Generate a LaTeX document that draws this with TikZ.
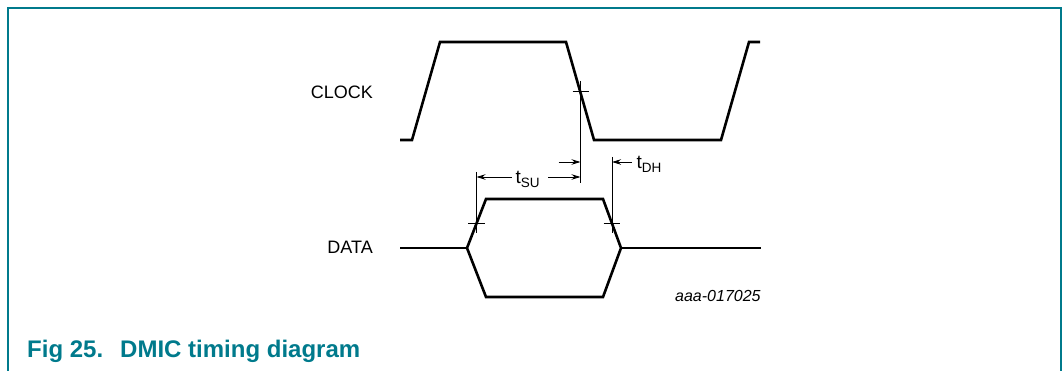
\documentclass[tikz,border=0pt]{standalone}
\usepackage{fontspec}
\setmainfont{Liberation Sans}
\usetikzlibrary{arrows.meta}
\definecolor{nxpteal}{RGB}{0,122,140}
\begin{document}
\begin{tikzpicture}[x=1pt,y=-1pt,
  wave/.style={line width=2.6pt, line join=miter},
  guide/.style={line width=0.9pt},
  dimarrow/.style={line width=0.9pt,-{Stealth[length=9pt,width=5.5pt]}},
  lbl/.style={inner sep=0pt, font=\fontsize{18}{18}\selectfont},
  tlbl/.style={inner sep=0pt, font=\fontsize{19}{19}\selectfont},
]
\useasboundingbox (0,0) rectangle (1063,371);
% frame
\draw[nxpteal, line width=2pt] (8,371) -- (8,8) -- (1061,8) -- (1061,371);

% clock waveform
\draw[wave] (400,140) -- (412,140) -- (440,42) -- (566,42) -- (594,140) -- (721,140) -- (749,42) -- (760,42);

% data waveform
\draw[wave] (400,248) -- (467,248);
\draw[wave] (621,248) -- (761,248);
\draw[wave] (467,248) -- (486,199) -- (603,199) -- (621,248) -- (603,297) -- (486,297) -- cycle;

% guide lines and cross ticks
\coordinate (clkTop) at (580.5,81);
\coordinate (clkBot) at (580.5,183);
\draw[guide] (clkTop) -- (clkBot);
\draw[guide] (572.5,91) -- (589,91);

\coordinate (dLTop) at (476.5,172);
\coordinate (dLBot) at (476.5,233);
\draw[guide] (dLTop) -- (dLBot);
\draw[guide] (468,223) -- (484.5,223);

\coordinate (dRTop) at (612,157);
\coordinate (dRBot) at (612,233);
\draw[guide] (dRTop) -- (dRBot);
\draw[guide] (603.5,223) -- (620,223);

% dimension arrows
\coordinate (suL) at (476.5,177);
\coordinate (suR) at (580.5,177);
\coordinate (clkH) at (580.5,162);
\coordinate (dhH) at (612,162);
\node[tlbl, anchor=base west] (tsu) at (515.5,183.5) {t\raisebox{-4pt}{\fontsize{13.5}{13.5}\selectfont SU}};
\node[tlbl, anchor=base west] (tdh) at (636.5,168.5) {t\raisebox{-4pt}{\fontsize{13.5}{13.5}\selectfont DH}};
\coordinate (suLs) at (511.5,177);
\coordinate (suRs) at (548,177);
\coordinate (clkHs) at (558.5,162);
\coordinate (dhHs) at (632,162);
\draw[dimarrow] (suLs) -- (suL);
\draw[dimarrow] (suRs) -- (suR);
\draw[dimarrow] (clkHs) -- (clkH);
\draw[dimarrow] (dhHs) -- (dhH);

% labels
\node[lbl, anchor=base east] (clock) at (373,99) {CLOCK};
\node[lbl, anchor=base east] (data) at (373,254) {DATA};
\node[inner sep=0pt, anchor=base west, font=\fontsize{16}{16}\selectfont\itshape] (code) at (675,302) {aaa-017025};
\node[inner sep=0pt, anchor=base west, text=nxpteal, font=\fontsize{24}{24}\selectfont\bfseries] (cap) at (27,357) {Fig 25.\hspace*{17pt}DMIC timing diagram};
\end{tikzpicture}
\end{document}
